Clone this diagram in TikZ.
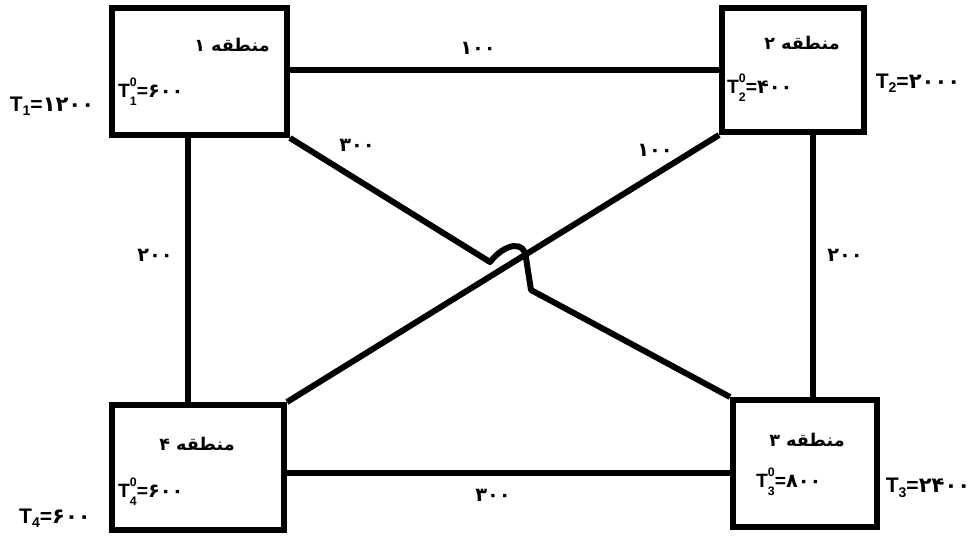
\documentclass[tikz,border=0pt]{standalone}
\usepackage{fontspec}
\setmainfont{Liberation Sans}
\newfontfamily\fa[Script=Arabic]{DejaVu Sans}
\TeXXeTstate=1
\usepackage{tikz}
\newcommand\Tzero[1]{T\rlap{\raisebox{1.05ex}{\scriptsize 0}}\raisebox{-0.8ex}{\scriptsize #1}}
\newcommand\Tfin[1]{T\raisebox{-0.4ex}{\footnotesize #1}}

\begin{document}
\begin{tikzpicture}[x=0.02cm,y=-0.02cm,font=\bfseries\fontsize{11}{13}\selectfont]
			\tikzstyle{region}=[draw,line width=3.4pt,inner sep=0pt]
			\tikzstyle{link}=[line width=3.4pt]
			\tikzstyle{cost}=[inner sep=1pt]
			\tikzstyle{title}=[inner sep=1pt,font=\bfseries\fontsize{10}{12}\selectfont]
			\tikzstyle{init}=[inner sep=1pt,anchor=west]
			\tikzstyle{final}=[inner sep=1pt,font=\bfseries\fontsize{12}{14}\selectfont]
			
			\useasboundingbox (0,0) rectangle (973,535);
			
			\node[region,minimum width=3.5cm,minimum height=2.54cm] (r1) at (199.5,71.5) {};
			\node[region,minimum width=2.84cm,minimum height=2.48cm] (r2) at (793,70) {};
			\node[region,minimum width=2.88cm,minimum height=2.54cm] (r3) at (805,463.5) {};
			\node[region,minimum width=3.44cm,minimum height=2.5cm] (r4) at (198,467.5) {};
			
			\node[title] (t1) at (232,45) {\fa\beginR منطقه ۱\endR};
			\node[title] (t2) at (802,43) {\fa\beginR منطقه ۲\endR};
			\node[title] (t3) at (807,440) {\fa\beginR منطقه ۳\endR};
			\node[title] (t4) at (197,444) {\fa\beginR منطقه ۴\endR};
			
			\node[init] (i1) at (116,92) {\Tzero{1}={\fa ۶۰۰}};
			\node[init] (i2) at (725,88) {\Tzero{2}={\fa ۴۰۰}};
			\node[init] (i3) at (754,482) {\Tzero{3}={\fa ۸۰۰}};
			\node[init] (i4) at (116,492) {\Tzero{4}={\fa ۶۰۰}};
			
			\node[final] (f1) at (52,106) {\Tfin{1}={\fa ۱۲۰۰}};
			\node[final] (f2) at (918,83) {\Tfin{2}={\fa ۲۰۰۰}};
			\node[final] (f3) at (928,488) {\Tfin{3}={\fa ۲۴۰۰}};
			\node[final] (f4) at (55,518) {\Tfin{4}={\fa ۶۰۰}};
			
			\draw[link] (r1.east |- r2.west) -- (r2.west);
			\draw[link] ([xshift=-0.23cm]r1.south) -- ([xshift=-0.23cm]r1.south |- r4.north);
			\draw[link] ([xshift=0.4cm]r2.south) -- ([xshift=0.4cm]r2.south |- r3.north);
			\draw[link] ([yshift=-0.11cm]r4.east) -- ([yshift=-0.11cm]r4.east -| r3.west);
			\draw[link] (r4.north east) -- (r2.south west);
			
			\coordinate (hopA) at (490,262);
			\coordinate (hopB) at (526,258);
			\coordinate (hopC) at (531,290);
			\draw[link,line join=round] (r1.south east) -- (hopA)
				.. controls (505,243) and (525,240) .. (hopB) -- (hopC) -- (r3.north west);
			
			\node[cost] (c12) at (478,48) {\fa ۱۰۰};
			\node[cost] (c13) at (357,145) {\fa ۳۰۰};
			\node[cost] (c24) at (655,150) {\fa ۱۰۰};
			\node[cost] (c14) at (155,255) {\fa ۲۰۰};
			\node[cost] (c23) at (845,255) {\fa ۲۰۰};
			\node[cost] (c34) at (493,495) {\fa ۳۰۰};
\end{tikzpicture}
\end{document}
